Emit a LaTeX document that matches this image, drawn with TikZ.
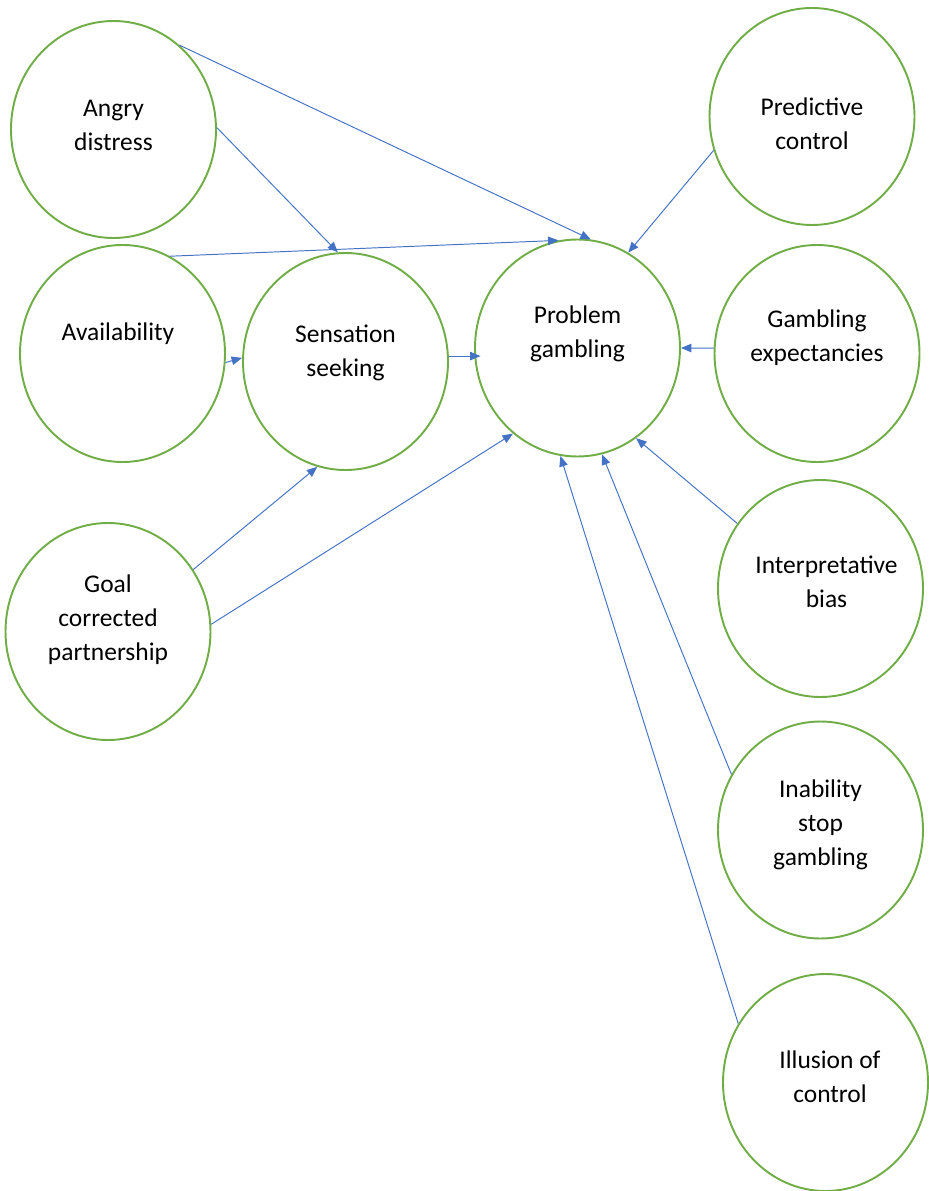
\documentclass[tikz,border=0pt]{standalone}
\usepackage{fontspec}
\setmainfont{Carlito}
\usetikzlibrary{shapes.geometric,arrows.meta,positioning}
\definecolor{leafgreen}{RGB}{112,173,71}
\definecolor{linkblue}{RGB}{68,114,196}

\begin{document}
\begin{tikzpicture}[
    factor/.style={draw=leafgreen, ellipse, line width=1.1pt, minimum width=4.1cm, minimum height=4.34cm, inner sep=0pt},
    caption/.style={align=center, font=\fontsize{14.5}{19.3}\selectfont},
    link/.style={draw=linkblue, line width=0.55pt, -{Triangle[length=0.21cm,width=0.17cm]}}]
    \useasboundingbox (0,0) rectangle (18.56,-23.82);

    % Left column
    \node[factor] (ad) at (2.27,-2.59) {};
    \node[factor] (av) at (2.45,-7.07) {};
    \node[factor] (gc) at (2.16,-12.63) {};
    \node[factor] (ss) at (6.91,-7.23) {};

    % Centre
    \node[factor] (pg) at (11.55,-6.96) {};

    % Right column
    \node[factor] (pc) at (16.24,-2.33) {};
    \node[factor] (ge) at (16.34,-7.07) {};
    \node[factor] (ib) at (16.41,-11.77) {};
    \node[factor] (is) at (16.41,-16.60) {};
    \node[factor] (ic) at (16.51,-21.65) {};

    % Texts
    \node[caption] (adtxt) at ([yshift=0.09cm]ad) {Angry\\distress};
    \node[caption] (avtxt) at ([xshift=-0.09cm,yshift=0.39cm]av) {Availability};
    \node[caption] (gctxt) at ([yshift=0.23cm]gc) {Goal\\corrected\\partnership};
    \node[caption] (sstxt) at ([yshift=0.18cm]ss) {Sensation\\seeking};
    \node[caption] (pgtxt) at ([yshift=0.29cm]pg) {Problem\\gambling};
    \node[caption] (pctxt) at ([yshift=-0.15cm]pc) {Predictive\\control};
    \node[caption] (getxt) at ([yshift=0.32cm]ge) {Gambling\\expectancies};
    \node[caption] (ibtxt) at ([xshift=0.12cm,yshift=0.14cm]ib) {Interpretative\\bias};
    \node[caption] (istxt) at ([yshift=0.10cm]is) {Inability\\stop\\gambling};
    \node[caption] (ictxt) at ([xshift=0.09cm,yshift=0.12cm]ic) {Illusion of\\control};

    % Paths
    \draw[link] (ad.52) -- (pg.83);
    \draw[link] (ad.1) -- (ss.94);
    \draw[link] (av.64) -- (pg.100.6);
    \draw[link] (av.-5.8) -- (ss.178);
    \draw[link] (ss.3.5) -- ([xshift=0.13cm]ss.3.5 -| pg.west);
    \draw[link] (gc.36.8) -- (ss.255.6);
    \draw[link] (gc.4.6) -- (pg.233);
    \draw[link] (pc.199) -- (pg.62);
    \draw[link] (ge.177.5) -- (pg.-0.6);
    \draw[link] (ib.142.4) -- (pg.303.8);
    \draw[link] (is.148) -- (pg.283.3);
    \draw[link] (ic.146.7) -- (pg.261.6);
\end{tikzpicture}
\end{document}
